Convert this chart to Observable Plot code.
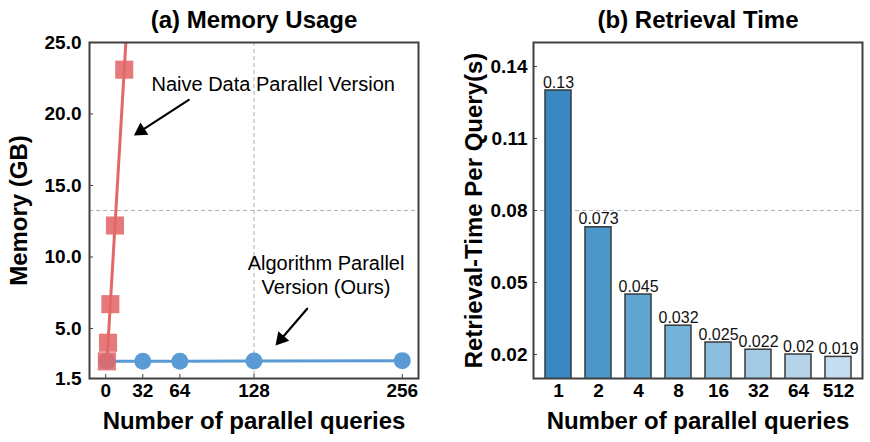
<!DOCTYPE html>
<html><head><meta charset="utf-8">
<script src="https://cdn.jsdelivr.net/npm/d3@7"></script>
<script src="https://cdn.jsdelivr.net/npm/@observablehq/plot@0.6"></script>
<style>
body{margin:0;background:#fff;}
#wrap{display:flex;width:870px;height:442px;}
</style></head><body><div id="wrap"></div>
<script>
// ---- Panel (a) Memory Usage ----
const naiveQueries = [1, 2, 4, 8, 16, 32];
const naiveMemory = [2.7, 4.0, 6.7, 12.2, 23.1, 45.0];
const oursQueries = [1, 32, 64, 128, 256];
const oursMemory = [2.7, 2.7, 2.7, 2.72, 2.75];
const memXTicks = [0, 32, 64, 128, 256];
const memYTicks = [1.5, 5, 10, 15, 20, 25];
const memGridX = [128];
const memGridY = [13.25];
const naiveNote = {t: "Naive Data Parallel Version", x: 39.5, y: 22.06};
const oursNote = {t: "Algorithm Parallel\nVersion (Ours)", x: 190.2, y: 8.77};
const arrowFrom = [[71.7, 20.99], [173.9, 6.38]];
const arrowTo = [[24.3, 18.50], [146.6, 3.81]];

// ---- Panel (b) Retrieval Time ----
const parallelLabels = ["1", "2", "4", "8", "16", "32", "64", "512"];
const retrievalTime = [0.13, 0.073, 0.045, 0.032, 0.025, 0.022, 0.02, 0.019];
const timeYTicks = [0.02, 0.05, 0.08, 0.11, 0.14];
const timeGridY = [0.08];
const barShade = [0.66, 0.60, 0.54, 0.48, 0.42, 0.36, 0.30, 0.24];

const W = 435, H = 442;
const FONT = "'Liberation Sans', Arial, Helvetica, sans-serif";
const FRAME = "#404040";
const GRID = {stroke: "#b0b0b0", strokeWidth: 1, strokeDasharray: "4,3"};
const RED = "#e26868", BLUE = "#5b9bd5";

const naive = naiveQueries.map((q, i) => ({q, m: naiveMemory[i]}));
const ours = oursQueries.map((q, i) => ({q, m: oursMemory[i]}));

const mA = {left: 89, right: 17, top: 42, bottom: 64};
const xDomA = [-14, 270], yDomA = [1.5, 25];
const sx = Plot.scale({x: {domain: xDomA, range: [mA.left, W - mA.right]}});
const sy = Plot.scale({y: {domain: yDomA, range: [H - mA.bottom, mA.top]}});
const HEAD = 12.6; // px
const arrows = arrowFrom.map((f, i) => {
  const t = arrowTo[i];
  const px1 = sx.apply(f[0]), py1 = sy.apply(f[1]);
  const px2 = sx.apply(t[0]), py2 = sy.apply(t[1]);
  const L = Math.hypot(px2 - px1, py2 - py1);
  const ux = (px2 - px1) / L, uy = (py2 - py1) / L;
  const cx = px2 - ux * HEAD * 2 / 3, cy = py2 - uy * HEAD * 2 / 3;
  return {x1: f[0], y1: f[1], x2: t[0], y2: t[1],
          cx: sx.invert(cx), cy: sy.invert(cy),
          rot: Math.atan2(ux, -uy) * 180 / Math.PI};
});
const headR = Math.sqrt(Math.pow(HEAD / 3, 2) * 3 * Math.sqrt(3) / Math.PI);

const plotA = Plot.plot({
  width: W, height: H,
  marginLeft: mA.left, marginRight: mA.right, marginTop: mA.top, marginBottom: mA.bottom,
  style: {fontFamily: FONT, color: "black", background: "white", overflow: "visible"},
  x: {domain: xDomA},
  y: {domain: yDomA},
  marks: [
    Plot.ruleX(memGridX, GRID),
    Plot.ruleY(memGridY, GRID),
    Plot.line(ours, {x: "q", y: "m", stroke: BLUE, strokeWidth: 3, clip: true}),
    Plot.dot(ours, {x: "q", y: "m", r: 8.5, fill: BLUE, symbol: "circle"}),
    Plot.line(naive, {x: "q", y: "m", stroke: RED, strokeWidth: 3, clip: true}),
    Plot.dot(naive, {x: "q", y: "m", r: 10.2, fill: RED, fillOpacity: 0.88, symbol: "square", clip: true}),
    Plot.text([naiveNote], {x: "x", y: "y", text: "t", textAnchor: "start", lineAnchor: "middle", fontSize: 20, fill: "black"}),
    Plot.text([oursNote], {x: "x", y: "y", text: "t", textAnchor: "middle", lineAnchor: "middle", lineHeight: 1.2, fontSize: 20, fill: "black"}),
    Plot.arrow(arrows, {x1: "x1", y1: "y1", x2: "x2", y2: "y2", stroke: "black", strokeWidth: 2.2, headLength: 0, insetEnd: 8}),
    Plot.dot(arrows, {x: "cx", y: "cy", symbol: "triangle", r: headR, rotate: "rot", fill: "black", stroke: "none"}),
    Plot.axisX({ticks: memXTicks, tickFormat: d => String(d), tickSize: -4, tickPadding: 9, fontSize: 19, fontWeight: "bold", label: null, stroke: FRAME}),
    Plot.axisY({ticks: memYTicks, tickFormat: d3.format(".1f"), tickSize: -4, tickPadding: 12, fontSize: 19, fontWeight: "bold", label: null, stroke: FRAME}),
    Plot.frame({stroke: FRAME, strokeWidth: 2}),
    Plot.text(["(a) Memory Usage"], {text: d => d, frameAnchor: "top", textAnchor: "middle", lineAnchor: "bottom", dy: -15, fontSize: 24, fontWeight: "bold"}),
    Plot.text(["Number of parallel queries"], {text: d => d, frameAnchor: "bottom", textAnchor: "middle", lineAnchor: "bottom", dy: 50, fontSize: 24, fontWeight: "bold"}),
    Plot.text(["Memory (GB)"], {text: d => d, frameAnchor: "left", rotate: -90, textAnchor: "middle", lineAnchor: "middle", dx: -70, fontSize: 24, fontWeight: "bold"})
  ]
});

const times = parallelLabels.map((q, i) => ({q, t: retrievalTime[i], c: d3.interpolateBlues(barShade[i])}));

const plotB = Plot.plot({
  width: W, height: H,
  marginLeft: 98, marginRight: 8, marginTop: 42, marginBottom: 64,
  style: {fontFamily: FONT, color: "black", background: "white", overflow: "visible"},
  x: {type: "band", domain: parallelLabels, paddingInner: 0.35, paddingOuter: 0.2875},
  y: {domain: [0.01, 0.15]},
  marks: [
    Plot.ruleY(timeGridY, GRID),
    Plot.barY(times, {x: "q", y: "t", fill: "c", stroke: "#383838", strokeWidth: 1.5, clip: true}),
    Plot.text(times, {x: "q", y: "t", text: d => String(d.t), lineAnchor: "bottom", dy: -3, fontSize: 16, fill: "#111"}),
    Plot.axisY({ticks: timeYTicks, tickFormat: d3.format(".2f"), tickSize: -4, tickPadding: 10, fontSize: 19, fontWeight: "bold", label: null, stroke: FRAME}),
    Plot.axisX({tickSize: 0, tickPadding: 5, fontSize: 19, fontWeight: "bold", label: null}),
    Plot.frame({stroke: FRAME, strokeWidth: 2}),
    Plot.text(["(b) Retrieval Time"], {text: d => d, frameAnchor: "top", textAnchor: "middle", lineAnchor: "bottom", dy: -15, fontSize: 24, fontWeight: "bold"}),
    Plot.text(["Number of parallel queries"], {text: d => d, frameAnchor: "bottom", textAnchor: "middle", lineAnchor: "bottom", dy: 50, fontSize: 24, fontWeight: "bold"}),
    Plot.text(["Retrieval-Time Per Query(s)"], {text: d => d, frameAnchor: "left", rotate: -90, textAnchor: "middle", lineAnchor: "middle", dx: -59, fontSize: 24, fontWeight: "bold"})
  ]
});

document.getElementById("wrap").append(plotA, plotB);
</script></body></html>
